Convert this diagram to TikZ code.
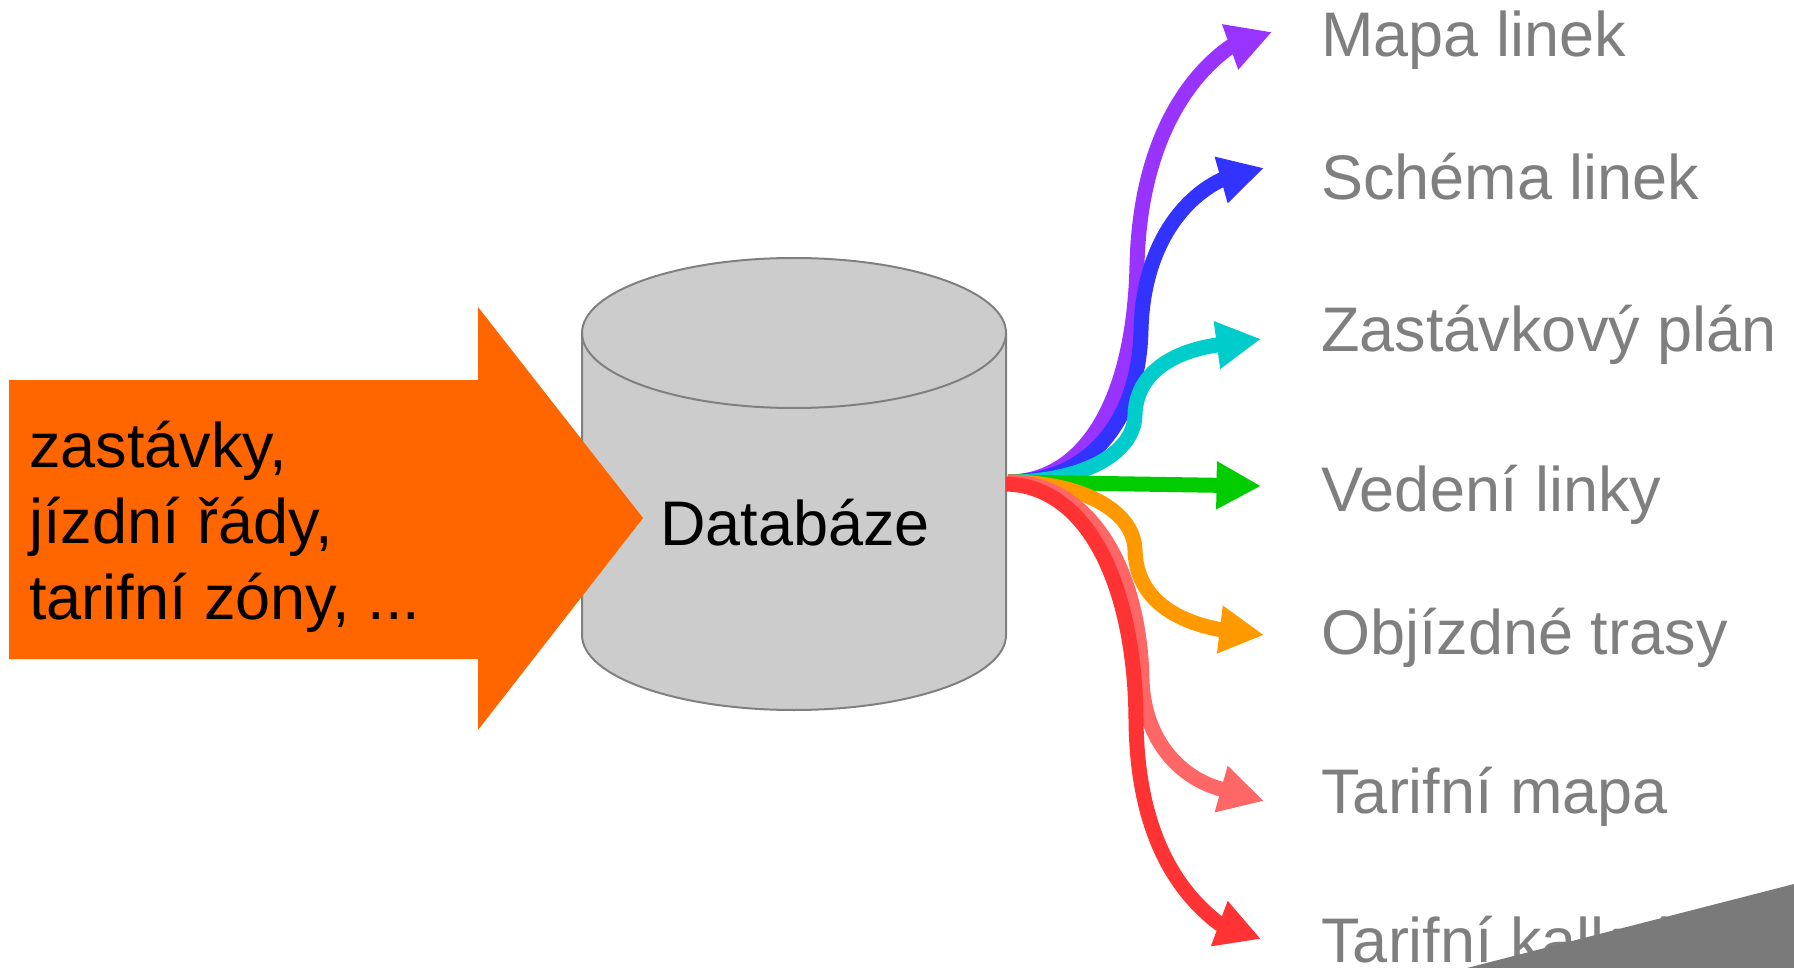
\documentclass[tikz,border=0pt]{standalone}
\usepackage{fontspec}
\setmainfont{Liberation Sans}
\usetikzlibrary{arrows.meta}
\definecolor{cOrange}{HTML}{FF6600}
\definecolor{cCyl}{HTML}{CCCCCC}
\definecolor{cCylLine}{HTML}{808080}
\definecolor{cLabel}{HTML}{7F7F7F}
\definecolor{cPurple}{HTML}{9933FF}
\definecolor{cBlue}{HTML}{3333FF}
\definecolor{cCyan}{HTML}{00CCCC}
\definecolor{cGreen}{HTML}{00CC00}
\definecolor{cAmber}{HTML}{FF9900}
\definecolor{cPink}{HTML}{FF6666}
\definecolor{cRed}{HTML}{FF3333}
\definecolor{cCurl}{HTML}{7A7A7A}
\tikzset{
  bigfont/.style={font=\fontsize{31.5pt}{38pt}\selectfont},
  outlabel/.style={bigfont, text=cLabel, anchor=base west, inner sep=0pt},
  flow/.style={line width=7.5pt, line join=round,
    -{Triangle[length=22.25pt, width=22.5pt]}},
  cylbody/.style={fill=cCyl, draw=cCylLine, line width=1pt},
}
\begin{document}
\begin{tikzpicture}[x=0.5pt, y=-0.5pt]
\useasboundingbox (0,0) rectangle (1794,968);

% database cylinder
\path[cylbody] (582,333) -- (582,635)
  arc[start angle=180, end angle=360, x radius=106pt, y radius=37.5pt]
  -- (1006,333)
  arc[start angle=0, end angle=180, x radius=106pt, y radius=37.5pt] -- cycle;
\draw[draw=cCylLine, line width=1pt] (582,333)
  arc[start angle=180, end angle=360, x radius=106pt, y radius=37.5pt];
\node[bigfont, anchor=base, inner sep=0pt] (db) at (795,545) {Databáze};

% input arrow
\fill[cOrange] (9,380) -- (478,380) -- (478,307) -- (643,518) -- (478,730)
  -- (478,659) -- (9,659) -- cycle;
\node[bigfont, anchor=base west, inner sep=0pt] (inp) at (29,467)
  {\parbox[t]{420pt}{\raggedright\fontsize{31.5pt}{38pt}\selectfont
   zastávky,\\jízdní řády,\\tarifní zóny, ...}};

% fan origin
\coordinate (fan) at (1008,482);
\coordinate (fanR) at (1006,484);

% output labels
\node[outlabel] (l1) at (1321,57) {Mapa linek};
\node[outlabel] (l2) at (1321,200) {Schéma linek};
\node[outlabel] (l3) at (1321,351) {Zastávkový plán};
\node[outlabel] (l4) at (1321,511) {Vedení linky};
\node[outlabel] (l5) at (1321,654) {Objízdné trasy};
\node[outlabel] (l6) at (1321,813) {Tarifní mapa};
\node[outlabel] (l7) at (1321,962) {Tarifní kalkulátor};

% corner shading, covering the end of the last label
\fill[cCurl] (1467,968) -- (1794,884) -- (1794,968) -- cycle;

% arrow tips and head bases
\coordinate (b1) at (1230,47);    \coordinate (t1) at (1272,32);
\coordinate (b2) at (1221,180);   \coordinate (t2) at (1264,168);
\coordinate (b3) at (1217,345);   \coordinate (t3) at (1261,339);
\coordinate (t4) at (1261,486);
\coordinate (b5) at (1219.5,629.5); \coordinate (t5) at (1264,635);
\coordinate (b6) at (1221,789);   \coordinate (t6) at (1264,801);
\coordinate (b7) at (1219,923.5); \coordinate (t7) at (1261,939);

% connectors
\draw[flow, cPurple] (fan) .. controls (1085,482) and (1134,400) .. (1137,265)
  .. controls (1140,140) and (1190,75) .. (b1) -- (t1);
\draw[flow, cBlue] (fan) .. controls (1090,482) and (1139,420) .. (1141,330)
  .. controls (1143,250) and (1180,200) .. (b2) -- (t2);
\draw[flow, cCyan] (fan) .. controls (1080,482) and (1134,455) .. (1135,415)
  .. controls (1136,375) and (1170,352) .. (b3) -- (t3);
\draw[flow, cGreen] (fan) -- (t4);
\draw[flow, cAmber] (fan) .. controls (1080,482) and (1134,510) .. (1135,550)
  .. controls (1136,595) and (1170,620) .. (b5) -- (t5);
\draw[flow, cPink] (fan) .. controls (1090,482) and (1140,570) .. (1142,680)
  .. controls (1144,740) and (1180,778) .. (b6) -- (t6);
\draw[flow, cRed] (fanR) .. controls (1090,486) and (1135,590) .. (1136,720)
  .. controls (1137,830) and (1175,890) .. (b7) -- (t7);
\end{tikzpicture}
\end{document}
